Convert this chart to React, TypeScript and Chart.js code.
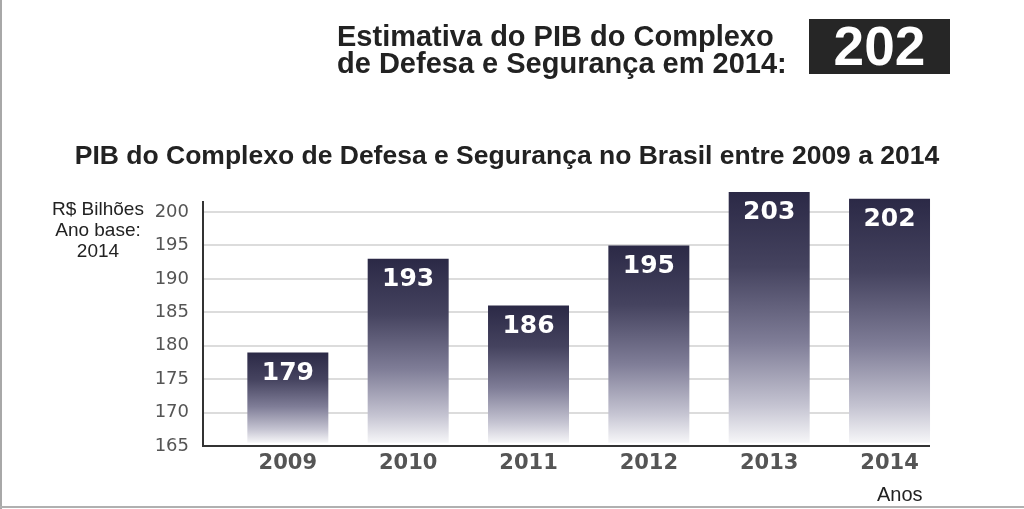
import React, { useEffect, useRef } from "react";
import { Chart, registerables } from "chart.js";

Chart.register(...registerables);

const years = ["2009", "2010", "2011", "2012", "2013", "2014"];
const pib = [179, 193, 186, 195, 203, 202];
const yTicks = [165, 170, 175, 180, 185, 190, 195, 200];

const headerLines = ["Estimativa do PIB do Complexo", "de Defesa e Segurança em 2014:"];
const headerValue = "202";
const chartTitle = "PIB do Complexo de Defesa e Segurança no Brasil entre 2009 a 2014";
const yLabelLines = ["R$ Bilhões", "Ano base:", "2014"];
const xLabel = "Anos";

const BAR_BASE = 165.5;

function barFill(c: any) {
  const chart = c.chart;
  const y = chart.scales && chart.scales.y;
  if (!y || c.type !== "data" || !c.raw) return "#3a3856";
  const top = y.getPixelForValue(c.raw.y);
  const bottom = y.getPixelForValue(BAR_BASE);
  if (!isFinite(top) || !isFinite(bottom) || top === bottom) return "#3a3856";
  const g = chart.ctx.createLinearGradient(0, top, 0, bottom);
  g.addColorStop(0, "#2b2946");
  g.addColorStop(0.3, "#45435f");
  g.addColorStop(0.6, "#7f7d97");
  g.addColorStop(0.85, "#c4c3d1");
  g.addColorStop(1, "#f6f6f8");
  return g;
}

const valueLabelPlugin = {
  id: "valueLabels",
  afterDatasetsDraw(chart: any) {
    const ctx = chart.ctx;
    const meta = chart.getDatasetMeta(0);
    const ds = chart.data.datasets[0];
    ctx.save();
    ctx.fillStyle = "#ffffff";
    ctx.font = "bold 25px 'DejaVu Sans'";
    ctx.textAlign = "center";
    ctx.textBaseline = "middle";
    meta.data.forEach((el: any, i: number) => {
      const v = ds.data[i].y;
      ctx.fillText(String(v), el.x, el.y + 21);
    });
    ctx.restore();
  },
};

function ChartCanvas() {
  const ref = useRef<HTMLCanvasElement | null>(null);
  useEffect(() => {
    if (!ref.current) return;
    const chart = new Chart(ref.current, {
      type: "bar",
      data: {
        datasets: [
          {
            data: pib.map((v, i) => ({ x: i, y: v })),
            backgroundColor: barFill,
            base: BAR_BASE,
            barPercentage: 0.673,
            categoryPercentage: 1,
            clip: false as any,
            borderSkipped: false,
          },
        ],
      },
      options: {
        animation: false,
        responsive: false,
        maintainAspectRatio: false,
        layout: { padding: { left: 150, right: 95, top: 202, bottom: 23 } },
        plugins: { legend: { display: false }, tooltip: { enabled: false }, title: { display: false } },
        scales: {
          x: {
            type: "linear",
            offset: false,
            min: -0.705,
            max: 5.328,
            afterBuildTicks(scale: any) {
              scale.ticks = years.map((_, i) => ({ value: i }));
            },
            afterFit(scale: any) {
              scale.height = 40;
            },
            grid: { display: false, drawTicks: false, offset: false },
            border: { display: true, color: "#333333", width: 2 },
            ticks: {
              autoSkip: false,
              maxRotation: 0,
              padding: 5,
              color: "#555555",
              font: { family: "'DejaVu Sans'", size: 21, weight: "bold" },
              callback: (v: any) => years[v] ?? "",
            },
          },
          y: {
            min: 165,
            max: 201.5,
            afterBuildTicks(scale: any) {
              scale.ticks = yTicks.map((v) => ({ value: v }));
            },
            afterFit(scale: any) {
              scale.width = 53;
            },
            grid: { color: "#dcdcdc", lineWidth: 2, drawTicks: false },
            border: { display: true, color: "#333333", width: 2 },
            ticks: {
              padding: 14,
              color: "#555555",
              font: { family: "'DejaVu Sans'", size: 18 },
            },
          },
        },
      },
      plugins: [valueLabelPlugin],
    } as any);
    return () => chart.destroy();
  }, []);
  return <canvas ref={ref} width={1024} height={509} style={{ position: "absolute", left: 0, top: 0 }} />;
}

export default function App() {
  return (
    <div
      style={{
        position: "fixed",
        left: 0,
        top: 0,
        width: 1024,
        height: 509,
        background: "#ffffff",
        overflow: "hidden",
        fontFamily: "'Liberation Sans', Arial, sans-serif",
      }}
    >
      <div style={{ position: "absolute", left: 0, top: 0, width: 2, height: 509, background: "#a8a8a8" }} />
      <div style={{ position: "absolute", left: 0, top: 506, width: 1024, height: 2, background: "#b0b0b0" }} />
      <ChartCanvas />
      <div
        style={{
          position: "absolute",
          left: 337,
          top: 23,
          fontWeight: "bold",
          fontSize: 29,
          lineHeight: "27px",
          color: "#222222",
          whiteSpace: "nowrap",
        }}
      >
        {headerLines.map((l) => (
          <div key={l}>{l}</div>
        ))}
      </div>
      <div
        style={{
          position: "absolute",
          left: 809,
          top: 19,
          width: 141,
          height: 55,
          background: "#262626",
          color: "#ffffff",
          fontWeight: "bold",
          fontSize: 55,
          lineHeight: "55px",
          textAlign: "center",
        }}
      >
        {headerValue}
      </div>
      <div
        style={{
          position: "absolute",
          left: 0,
          width: 1014,
          top: 140,
          textAlign: "center",
          fontWeight: "bold",
          fontSize: 26.5,
          lineHeight: "30px",
          color: "#222222",
          whiteSpace: "nowrap",
        }}
      >
        {chartTitle}
      </div>
      <div
        style={{
          position: "absolute",
          left: 48,
          width: 100,
          top: 198,
          textAlign: "center",
          fontSize: 19,
          lineHeight: "21px",
          color: "#222222",
        }}
      >
        {yLabelLines.map((l) => (
          <div key={l}>{l}</div>
        ))}
      </div>
      <div style={{ position: "absolute", left: 877, top: 483, fontSize: 20, lineHeight: "22px", color: "#222222" }}>
        {xLabel}
      </div>
    </div>
  );
}
